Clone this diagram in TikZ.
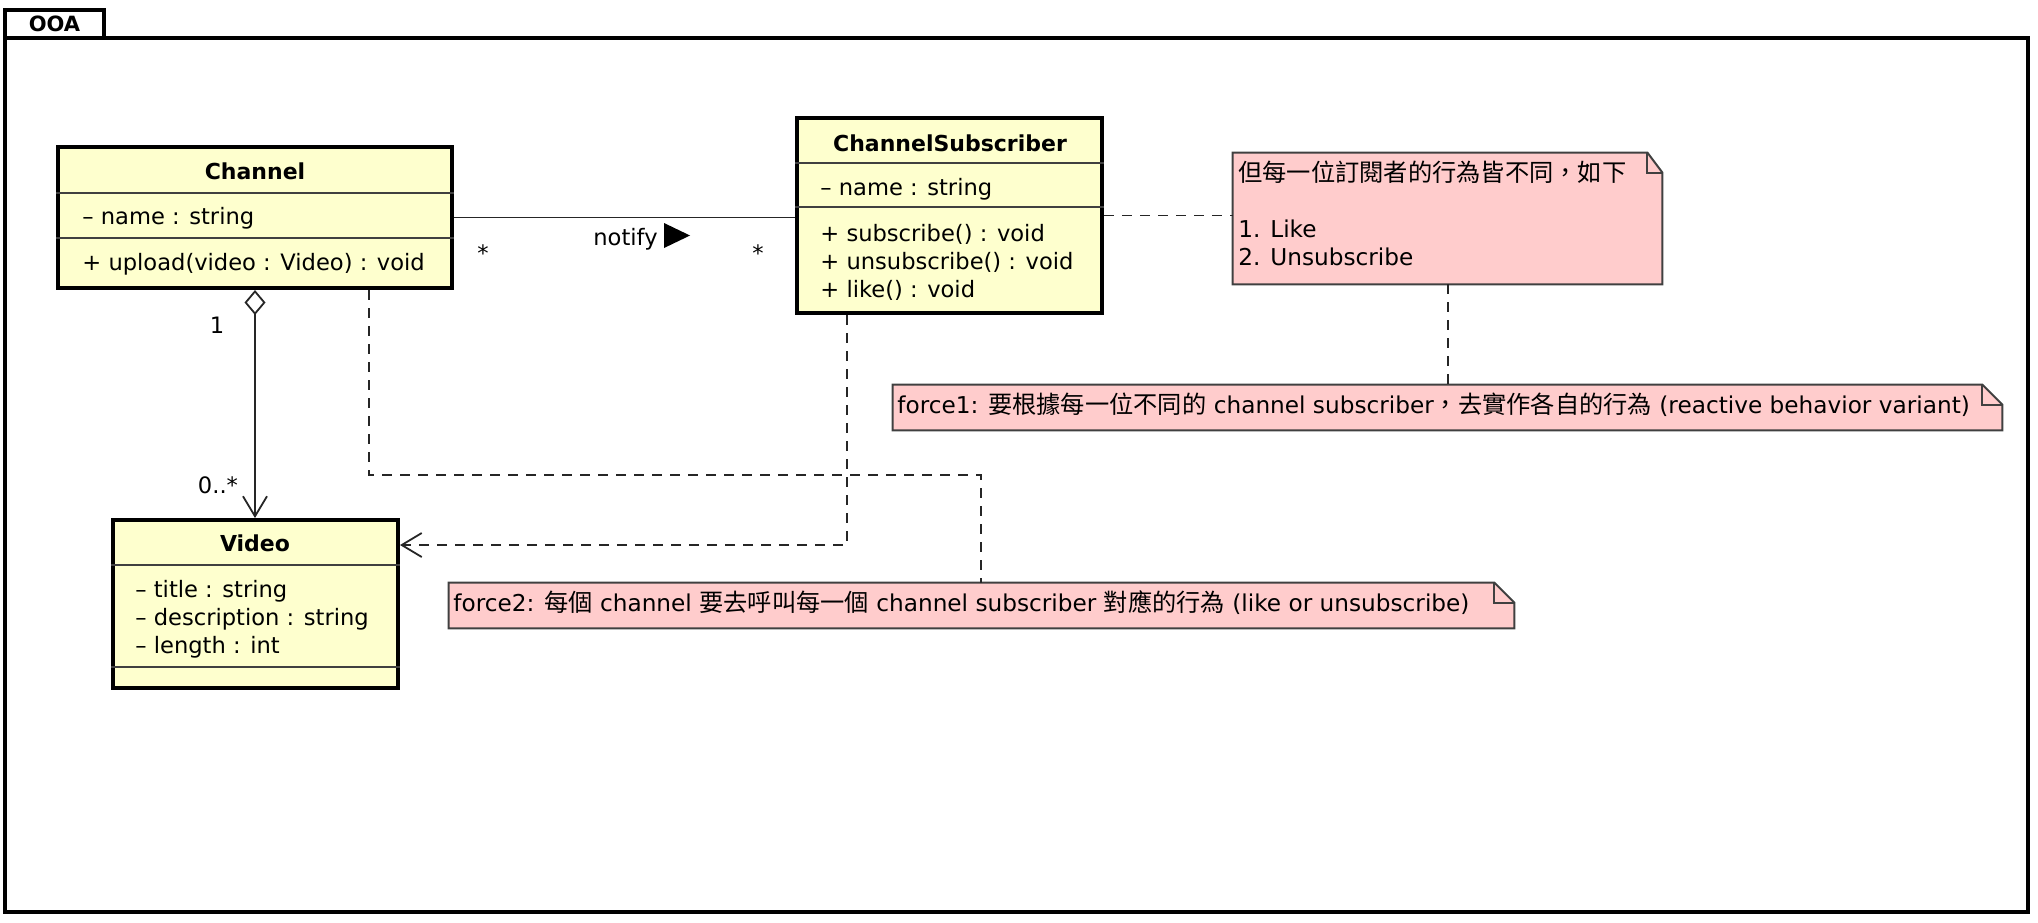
\documentclass[tikz,border=0pt]{standalone}
\usepackage{fontspec}
\setmainfont{DejaVu Sans}
\newfontfamily\cjk[Scale=1.045]{Noto Sans CJK TC}
\usetikzlibrary{arrows.meta, fit, calc}
\definecolor{classfill}{HTML}{FEFFCE}
\definecolor{notefill}{HTML}{FFCCCC}

\begin{document}
\begin{tikzpicture}
            [x=0.5pt, y=-0.5pt, font=\fontsize{11.3}{14}\selectfont,
             frame/.style={draw=black, line width=2pt, inner sep=0pt},
             classbox/.style={draw=black, line width=2pt, fill=classfill, inner sep=0pt},
             title/.style={font=\fontsize{11}{14}\selectfont\bfseries, inner sep=0pt, anchor=base},
             member/.style={inner sep=0pt, anchor=base west},
             notetext/.style={member, font=\fontsize{11.6}{14}\selectfont},
             sep/.style={draw=black!75, line width=0.9pt},
             notebox/.style={inner sep=0pt},
             noteline/.style={draw=black!75, fill=notefill, line width=1pt},
             notefold/.style={draw=black!75, line width=1pt},
             assoc/.style={draw=black!85, line width=0.9pt},
             anchorline/.style={draw=black!85, line width=0.9pt, dash pattern=on 5pt off 4pt},
             openv/.tip={Straight Barb[length=10pt, width=12pt, line width=0.9pt]},
             hollowdiamond/.tip={Diamond[open, length=12.5pt, width=10.5pt, line width=0.9pt]}]
            \useasboundingbox (0,0) rectangle (2038,922);

            % package frame
            \node[frame, fit={(5,10) (104,38)}] (pkgtab) {};
            \node[frame, fit={(5,38) (2028,912)}] (pkg) {};
            \node[font=\fontsize{10.5}{14}\selectfont\bfseries] (pkgname) at (pkgtab.center) {OOA};

            % classes
            \node[classbox, fit={(58,147) (452,288)}] (channel) {};
            \draw[sep] (channel.west |- 0,193) -- (channel.east |- 0,193);
            \draw[sep] (channel.west |- 0,238) -- (channel.east |- 0,238);
            \node[title] (channeltitle) at (255,179) {Channel};
            \node[member] (channelname) at (82,224) {– name : string};
            \node[member] (channelupload) at (82,270) {+ upload(video : Video) : void};

            \node[classbox, fit={(797,118) (1102,313)}] (sub) {};
            \draw[sep] (sub.west |- 0,163) -- (sub.east |- 0,163);
            \draw[sep] (sub.west |- 0,207) -- (sub.east |- 0,207);
            \node[title] (subtitle) at (950,151) {ChannelSubscriber};
            \node[member] (subname) at (820,195) {– name : string};
            \node[member] (subsubscribe) at (820,241) {+ subscribe() : void};
            \node[member] (subunsubscribe) at (820,269) {+ unsubscribe() : void};
            \node[member] (sublike) at (820,297) {+ like() : void};

            \node[classbox, fit={(113,520) (398,688)}] (video) {};
            \draw[sep] (video.west |- 0,565) -- (video.east |- 0,565);
            \draw[sep] (video.west |- 0,667) -- (video.east |- 0,667);
            \node[title] (videoname) at (255,551) {Video};
            \node[member] (videotitle) at (135,597) {– title : string};
            \node[member] (videodesc) at (135,625) {– description : string};
            \node[member] (videolength) at (135,653) {– length : int};

            % notes
            \node[notebox, fit={(1233,153) (1662,284)}] (note1) {};
            \draw[noteline] (note1.south west) -- (note1.north west) -- ($(note1.north east)+(-15,0)$)
                -- ($(note1.north east)+(0,20)$) -- (note1.south east) -- cycle;
            \draw[notefold] ($(note1.north east)+(-15,0)$) -- ++(0,20) -- ($(note1.north east)+(0,20)$);
            \node[notetext] (note1line1) at (1238,181) {\cjk 但每一位訂閱者的行為皆不同，如下};
            \node[notetext] (note1line2) at (1238,237) {1. Like};
            \node[notetext] (note1line3) at (1238,265) {2. Unsubscribe};

            \node[notebox, fit={(893,385) (2002,430)}] (force1) {};
            \draw[noteline] (force1.south west) -- (force1.north west) -- ($(force1.north east)+(-20,0)$)
                -- ($(force1.north east)+(0,20)$) -- (force1.south east) -- cycle;
            \draw[notefold] ($(force1.north east)+(-20,0)$) -- ++(0,20) -- ($(force1.north east)+(0,20)$);
            \node[notetext] (force1text) at (897,413)
                {force1: {\cjk 要根據每一位不同的} channel subscriber{\cjk ，去實作各自的行為} (reactive behavior variant)};

            \node[notebox, fit={(449,583) (1514,628)}] (force2) {};
            \draw[noteline] (force2.south west) -- (force2.north west) -- ($(force2.north east)+(-20,0)$)
                -- ($(force2.north east)+(0,20)$) -- (force2.south east) -- cycle;
            \draw[notefold] ($(force2.north east)+(-20,0)$) -- ++(0,20) -- ($(force2.north east)+(0,20)$);
            \node[notetext] (force2text) at (453,611)
                {force2: {\cjk 每個} channel {\cjk 要去呼叫每一個} channel subscriber {\cjk 對應的行為} (like or unsubscribe)};

            % association
            \draw[assoc] (channel.east) -- (channel.east -| sub.west);
            \node[anchor=base, inner sep=0pt] (assocstar1) at (483,261) {*};
            \node[anchor=base, inner sep=0pt] (assocstar2) at (758,261) {*};
            \node[member] (notify) at (593,245) {notify};
            \fill (notify.base east) ++(6,-22) -- ++(26,12.5) -- ++(-26,12.5) -- cycle;

            % aggregation
            \draw[assoc, hollowdiamond-openv] (channel.south) -- (channel.south |- video.north);
            \node[anchor=base, inner sep=0pt] (aggone) at (217,333) {1};
            \node[anchor=base, inner sep=0pt] (aggmany) at (218,493) {0..*};

            % dependency
            \draw[anchorline, -openv] (sub.south -| 847,0) |- (video.east |- 0,545);

            % note anchors
            \draw[anchorline] (sub.east) -- (sub.east -| note1.west);
            \draw[anchorline] (1448,0 |- note1.south) -- (1448,0 |- force1.north);
            \draw[anchorline] (369,0 |- channel.south) |- (981,475) -- (981,0 |- force2.north);
        \end{tikzpicture}
\end{document}
